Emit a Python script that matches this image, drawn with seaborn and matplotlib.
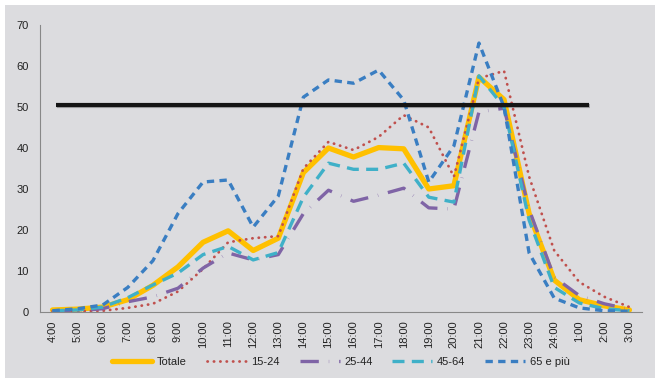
import matplotlib
matplotlib.use("Agg")
import matplotlib.pyplot as plt
import matplotlib.patheffects as pe
from matplotlib.patches import Rectangle
import numpy as np
import seaborn as sns

hours = ["4:00", "5:00", "6:00", "7:00", "8:00", "9:00", "10:00", "11:00", "12:00",
         "13:00", "14:00", "15:00", "16:00", "17:00", "18:00", "19:00", "20:00",
         "21:00", "22:00", "23:00", "24:00", "1:00", "2:00", "3:00"]

totale = [0.5, 0.7, 1.2, 3.0, 6.5, 11.0, 17.0, 19.8, 15.0, 18.0, 34.0, 40.0,
          37.8, 40.1, 39.8, 30.0, 30.8, 57.3, 51.8, 24.0, 7.8, 3.0, 1.5, 0.5]
age_15_24 = [0.2, 0.2, 0.3, 1.0, 2.0, 5.0, 10.5, 17.0, 18.0, 18.5, 35.0, 41.5,
             39.5, 42.7, 48.0, 45.0, 33.0, 57.0, 58.8, 33.0, 15.0, 7.3, 3.7, 1.2]
age_25_44 = [0.2, 0.3, 0.8, 2.5, 3.7, 5.8, 10.7, 14.4, 12.7, 14.0, 24.0, 29.7,
             27.0, 28.5, 30.2, 25.4, 25.1, 48.8, 49.7, 25.0, 8.5, 4.0, 2.0, 0.7]
age_45_64 = [0.3, 0.5, 1.2, 3.5, 6.6, 9.5, 14.0, 16.0, 12.7, 14.5, 28.0, 36.3,
             34.8, 34.8, 36.3, 28.0, 26.8, 57.6, 50.0, 22.4, 6.0, 2.2, 0.8, 0.3]
age_65_plus = [0.3, 0.8, 1.7, 6.0, 12.5, 24.0, 31.7, 32.2, 20.7, 28.3, 52.4, 56.6,
               55.8, 59.0, 51.7, 31.7, 40.5, 65.6, 50.0, 14.4, 3.4, 1.0, 0.3, 0.2]

threshold = 50.5
threshold_span = (0.15, 21.4)

series = {
    "Totale": totale,
    "15-24": age_15_24,
    "25-44": age_25_44,
    "45-64": age_45_64,
    "65 e più": age_65_plus,
}
styles = {
    "Totale": dict(color="#ffc000", lw=3.8, dashes=None),
    "15-24": dict(color="#c0504d", lw=2.0, dashes=(0.1, 2.2)),
    "25-44": dict(color="#7f64a6", lw=2.4, dashes=(5.5, 3.0, 0.1, 3.0)),
    "45-64": dict(color="#3fb0c8", lw=2.4, dashes=(3.6, 2.2)),
    "65 e più": dict(color="#3a7ec2", lw=2.4, dashes=(2.2, 1.6)),
}

bg = "#dcdcdf"
sns.set_style("white")
plt.rcParams["font.family"] = ["Liberation Sans", "DejaVu Sans"]

fig = plt.figure(figsize=(6.6, 3.83), dpi=100)
fig.patch.set_facecolor("white")
fig.add_artist(Rectangle((5 / 660, 5 / 383), 650 / 660, 373 / 383,
                         transform=fig.transFigure, facecolor=bg,
                         edgecolor="none", zorder=0))
ax = fig.add_axes([40 / 660, 71 / 383, 602 / 660, 287 / 383])
ax.set_facecolor(bg)

x = np.arange(len(hours))
for name, vals in series.items():
    st = styles[name]
    sns.lineplot(x=x, y=vals, ax=ax, color=st["color"], linewidth=st["lw"],
                 label=name)
    ln = ax.lines[-1]
    if st["dashes"] is not None:
        ln.set_dashes(st["dashes"])
        ln.set_dash_capstyle("round" if name == "15-24" else "butt")
    ln.set_solid_joinstyle("round")

ax.plot(threshold_span, [threshold, threshold], color="#151515", lw=3.0,
        solid_capstyle="butt", zorder=6,
        path_effects=[pe.SimpleLineShadow(offset=(0.5, -1), alpha=0.25),
                      pe.Normal()])

ax.set_xlim(-0.5, len(hours) - 0.5)
ax.set_ylim(0, 70)
ax.set_yticks(range(0, 71, 10))
ax.set_xticks(x)
ax.set_xticklabels(hours, rotation=90, fontsize=8, color="#222222")
ax.set_xticks(np.arange(-0.5, len(hours)), minor=True)
ax.tick_params(axis="x", which="major", length=0, pad=6)
ax.tick_params(axis="x", which="minor", length=4, color="#888888", width=0.8)
ax.tick_params(axis="y", length=4, color="#888888", width=0.8,
               labelsize=8, labelcolor="#222222", pad=4)
for side in ["top", "right"]:
    ax.spines[side].set_visible(False)
for side in ["left", "bottom"]:
    ax.spines[side].set_color("#888888")
    ax.spines[side].set_linewidth(0.8)

leg = ax.legend(loc="center", bbox_to_anchor=(0.5, -50 / 287), ncol=5,
                frameon=False, fontsize=8, handlelength=3.6,
                columnspacing=1.8, handletextpad=0.4)
for t in leg.get_texts():
    t.set_color("#222222")

fig.savefig("out.png", dpi=100, facecolor="white")
